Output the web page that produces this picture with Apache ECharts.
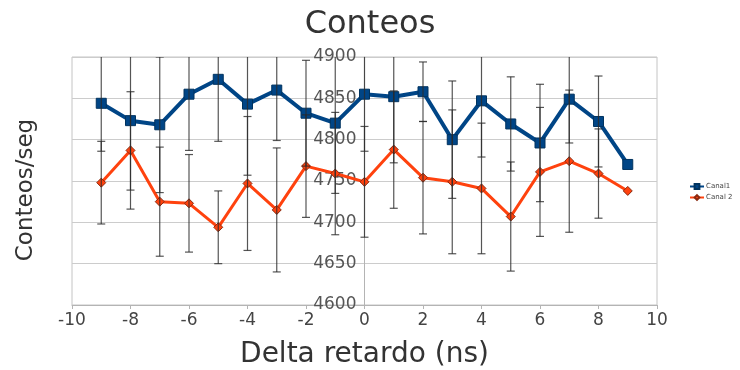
<!DOCTYPE html>
<html>
<head>
<meta charset="utf-8">
<script src="https://cdn.jsdelivr.net/npm/echarts@6/dist/echarts.min.js"></script>
<style>
  html, body { margin: 0; padding: 0; background: #fff; }
  #chart { width: 740px; height: 370px; }
</style>
</head>
<body>
<div id="chart"></div>
<script>
// Delay steps (ns)
const delays = [-9, -8, -7, -6, -5, -4, -3, -2, -1, 0, 1, 2, 3, 4, 5, 6, 7, 8, 9];
// Mean counts per second, channel 1 and channel 2
const canal1 = [4844, 4823, 4818, 4855, 4873, 4843, 4860, 4832, 4820, 4855, 4852, 4858, 4800, 4847, 4819, 4796, 4849, 4822, 4770];
const canal2 = [4748, 4787, 4725, 4723, 4694, 4747, 4715, 4768, 4759, 4749, 4788, 4754, 4749, 4741, 4707, 4761, 4774, 4759, 4738];
// Symmetric uncertainty of each point (null = no bar)
const err1 = [58, 84, 82, 68, 75, 86, 61, 64, 85, 69, 80, 36, 71, 68, 57, 71, 53, 55, null];
const err2 = [50, 71, 66, 59, 44, 81, 75, 62, 74, 67, 71, 68, 87, 79, 66, 78, 86, 54, null];
const seriesNames = ['Canal1', 'Canal 2'];
const xTicks = { min: -10, max: 10, step: 2 };
const yTicks = { min: 4600, max: 4900, step: 50 };

const FONT = 'DejaVu Sans';
const GRID = { left: 72, right: 83, top: 57, bottom: 65 };
const CHART_W = 740;
// the vertical axis sits at delay = 0, i.e. halfway across the plot
const Y_AXIS_SHIFT = (CHART_W - GRID.left - GRID.right) / 2;

function pairs(vals) {
  return delays.map((d, i) => [d, vals[i]]);
}
function errRows(vals, errs) {
  const rows = [];
  delays.forEach((d, i) => {
    if (errs[i] != null) rows.push([d, vals[i] - errs[i], vals[i] + errs[i]]);
  });
  return rows;
}

function renderErrorBar(params, api) {
  const x = api.value(0);
  const lo = api.coord([x, api.value(1)]);
  const hi = api.coord([x, api.value(2)]);
  const cap = 4;
  const style = { stroke: '#2b2b2b', lineWidth: 1.2, opacity: 0.8 };
  return {
    type: 'group',
    children: [
      { type: 'line', shape: { x1: hi[0], y1: hi[1], x2: lo[0], y2: lo[1] }, style: style },
      { type: 'line', shape: { x1: hi[0] - cap, y1: hi[1], x2: hi[0] + cap, y2: hi[1] }, style: style },
      { type: 'line', shape: { x1: lo[0] - cap, y1: lo[1], x2: lo[0] + cap, y2: lo[1] }, style: style }
    ]
  };
}

const chart = echarts.init(document.getElementById('chart'), null, { renderer: 'canvas' });

chart.setOption({
  backgroundColor: '#ffffff',
  animation: false,
  textStyle: { fontFamily: FONT },
  title: {
    text: 'Conteos',
    left: 'center',
    top: 4,
    textStyle: { fontFamily: FONT, fontSize: 32, fontWeight: 'normal', color: '#333333' }
  },
  legend: {
    orient: 'vertical',
    left: 684,
    top: 178,
    itemWidth: 14,
    itemHeight: 6,
    itemGap: 4,
    textStyle: { fontFamily: FONT, fontSize: 7, color: '#444444', padding: [0, 0, 0, -3] },
    data: seriesNames
  },
  grid: {
    left: GRID.left,
    right: GRID.right,
    top: GRID.top,
    bottom: GRID.bottom,
    containLabel: false,
    outerBoundsMode: 'none',
    show: true,
    borderColor: '#c4c4c4',
    borderWidth: 1
  },
  xAxis: {
    type: 'value',
    min: xTicks.min,
    max: xTicks.max,
    interval: xTicks.step,
    name: 'Delta retardo (ns)',
    nameLocation: 'middle',
    nameGap: 36,
    nameTextStyle: { fontFamily: FONT, fontSize: 28, color: '#333333' },
    axisLine: { show: true, onZero: false, lineStyle: { color: '#b4b4b4', width: 1 } },
    axisTick: { show: true, length: 4, lineStyle: { color: '#b4b4b4' } },
    axisLabel: { fontFamily: FONT, fontSize: 17, color: '#444444', margin: 7, formatter: v => String(v) },
    splitLine: { show: false }
  },
  yAxis: {
    type: 'value',
    position: 'left',
    offset: -Y_AXIS_SHIFT,
    min: yTicks.min,
    max: yTicks.max,
    interval: yTicks.step,
    name: 'Conteos/seg',
    nameLocation: 'middle',
    nameRotate: 90,
    nameGap: Y_AXIS_SHIFT + GRID.left - 38,
    nameTextStyle: { fontFamily: FONT, fontSize: 23, color: '#333333', padding: [0, 18, 0, 0] },
    axisLine: { show: true, onZero: false, lineStyle: { color: '#b4b4b4', width: 1 } },
    axisTick: { show: false },
    axisLabel: { fontFamily: FONT, fontSize: 17, color: '#555555', margin: 8, formatter: v => String(v) },
    splitLine: { show: true, lineStyle: { color: '#cccccc', width: 1 } }
  },
  series: [
    {
      name: seriesNames[0],
      type: 'line',
      data: pairs(canal1),
      symbol: 'rect',
      symbolSize: 10,
      lineStyle: { color: '#004586', width: 4 },
      itemStyle: { color: '#004586', borderColor: '#00335f', borderWidth: 1 },
      z: 3
    },
    {
      name: seriesNames[1],
      type: 'line',
      data: pairs(canal2),
      symbol: 'diamond',
      symbolSize: 9,
      lineStyle: { color: '#ff420e', width: 3 },
      itemStyle: { color: '#ff420e', borderColor: '#8a2a10', borderWidth: 1 },
      z: 3
    },
    {
      name: seriesNames[0] + ' error',
      type: 'custom',
      data: errRows(canal1, err1),
      renderItem: renderErrorBar,
      clip: true,
      silent: true,
      z: 5
    },
    {
      name: seriesNames[1] + ' error',
      type: 'custom',
      data: errRows(canal2, err2),
      renderItem: renderErrorBar,
      clip: true,
      silent: true,
      z: 5
    }
  ]
});
</script>
</body>
</html>
